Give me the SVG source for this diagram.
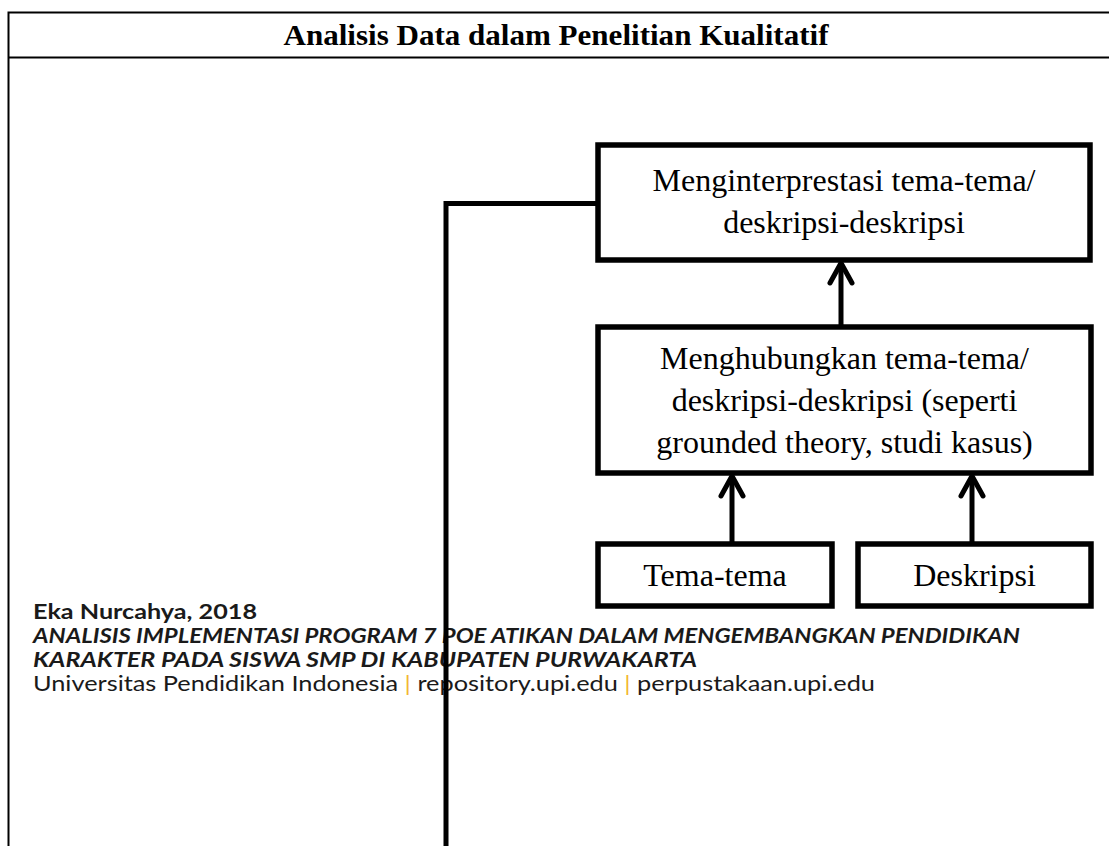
<svg xmlns="http://www.w3.org/2000/svg" width="1109" height="846" viewBox="0 0 1109 846">
<style>
.frame{fill:none;stroke:#000;stroke-width:2}
.box{fill:#fff;stroke:#000;stroke-width:5.5;stroke-linejoin:miter}
.bt{font-family:"Liberation Serif","Times New Roman",serif;font-size:32px;fill:#000;text-anchor:middle}
.title{font-family:"Liberation Serif","Times New Roman",serif;font-size:30px;font-weight:bold;fill:#000;text-anchor:middle}
.ft{font-family:Lato,"Liberation Sans Narrow",sans-serif;font-size:21px;fill:#1a1a1a}
.bar{fill:#F2B731}
.conn{fill:none;stroke:#000;stroke-width:5}
</style>
<defs>
<marker id="arr" markerUnits="userSpaceOnUse" viewBox="-26 -16 30 32" markerWidth="30" markerHeight="32" refX="0" refY="0" orient="auto" overflow="visible">
<path d="M-20,-11 L0,0 L-20,11" fill="none" stroke="#000" stroke-width="5" stroke-linejoin="round" stroke-linecap="round"/>
</marker>
</defs>
<rect width="1109" height="846" fill="#fff"/>
<g id="frame">
<path class="frame" d="M8.5,846 V12.5 H1109 M8.5,57.5 H1109"/>
<text class="title" x="556" y="45" textLength="545" lengthAdjust="spacingAndGlyphs">Analisis Data dalam Penelitian Kualitatif</text>
</g>
<g id="footer">
<text class="ft" x="33" y="619" font-weight="bold" textLength="224" lengthAdjust="spacingAndGlyphs">Eka Nurcahya, 2018</text>
<text class="ft" x="33" y="643" font-weight="bold" font-style="italic" textLength="987" lengthAdjust="spacingAndGlyphs">ANALISIS IMPLEMENTASI PROGRAM 7 POE ATIKAN DALAM MENGEMBANGKAN PENDIDIKAN</text>
<text class="ft" x="33" y="667" font-weight="bold" font-style="italic" textLength="664" lengthAdjust="spacingAndGlyphs">KARAKTER PADA SISWA SMP DI KABUPATEN PURWAKARTA</text>
<text class="ft" x="33" y="691" textLength="842" lengthAdjust="spacingAndGlyphs">Universitas Pendidikan Indonesia <tspan class="bar">|</tspan> repository.upi.edu <tspan class="bar">|</tspan> perpustakaan.upi.edu</text>
</g>
<g id="node-interpretasi">
<rect class="box" x="598" y="145" width="492" height="115"/>
<text class="bt" x="844" y="191">Menginterprestasi tema-tema/</text>
<text class="bt" x="844" y="233">deskripsi-deskripsi</text>
</g>
<g id="node-menghubungkan">
<rect class="box" x="598" y="327" width="493" height="146"/>
<text class="bt" x="844.5" y="369">Menghubungkan tema-tema/</text>
<text class="bt" x="844.5" y="411">deskripsi-deskripsi (seperti</text>
<text class="bt" x="844.5" y="453">grounded theory, studi kasus)</text>
</g>
<g id="node-tema">
<rect class="box" x="598" y="544" width="234" height="62"/>
<text class="bt" x="715" y="586">Tema-tema</text>
</g>
<g id="node-deskripsi">
<rect class="box" x="858" y="544" width="233" height="62"/>
<text class="bt" x="974.5" y="586">Deskripsi</text>
</g>
<g id="connectors">
<path class="conn" d="M598,203.5 H446 V846"/>
<path class="conn" d="M841,327 V263" marker-end="url(#arr)"/>
<path class="conn" d="M732,544 V476" marker-end="url(#arr)"/>
<path class="conn" d="M972,544 V476" marker-end="url(#arr)"/>
</g>
</svg>
